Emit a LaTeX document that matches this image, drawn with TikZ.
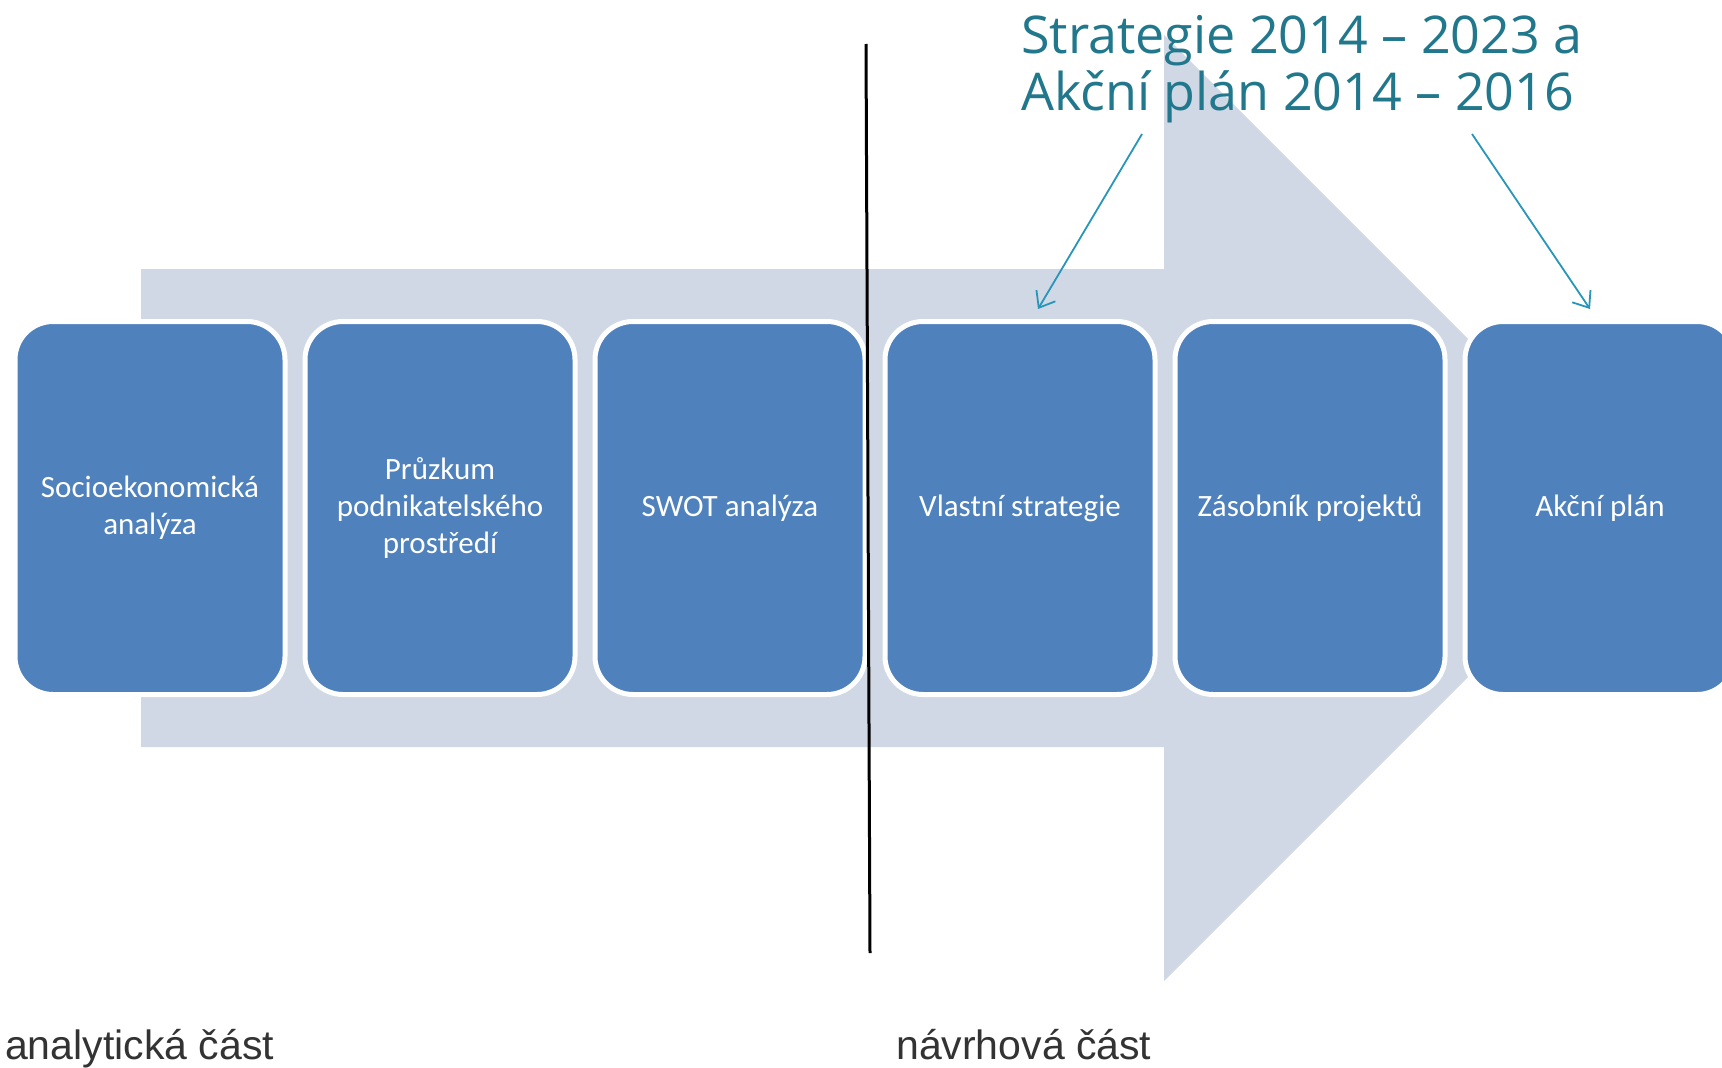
\documentclass[tikz,border=0pt]{standalone}
\usepackage{fontspec}
\setmainfont{Carlito}
\newfontfamily\titlefont{Open Sans}
\newfontfamily\labelfont{Liberation Sans}
\usetikzlibrary{arrows.meta}
\definecolor{boxblue}{HTML}{4F81BD}
\definecolor{arrowgrey}{HTML}{D0D8E5}
\definecolor{tealtext}{HTML}{21788C}
\definecolor{tealline}{HTML}{2896B9}
\definecolor{labelgrey}{HTML}{333333}
\tikzset{
  stagebox/.style={draw=white, line width=5pt, fill=boxblue, rounded corners=38pt,
    minimum width=270pt, minimum height=373pt, inner sep=0pt, text=white,
    align=center, font=\fontsize{31}{37}\selectfont},
  titleline/.style={anchor=base west, inner sep=0pt, text=tealtext,
    font=\titlefont\fontsize{52}{57}\selectfont},
  partlabel/.style={anchor=base west, inner sep=0pt, text=labelgrey,
    font=\labelfont\fontsize{41}{46}\selectfont},
  pointer/.style={draw=tealline, line width=1.8pt,
    -{Straight Barb[length=14pt,width=22pt,line width=1.8pt]}},
  divider/.style={draw=black, line width=3pt}
}
\begin{document}
\begin{tikzpicture}[x=1pt,y=-1pt]
\useasboundingbox (0,0) rectangle (1722,1068);
\fill[white] (0,0) rectangle (1722,1068);
% big background arrow
\fill[arrowgrey] (141,269) -- (1164,269) -- (1164,35) -- (1637,508)
  -- (1164,981) -- (1164,747) -- (141,747) -- cycle;
% stage boxes
\node[stagebox] (b1) at (150,508) {Socioekonomická\\analýza};
\node[stagebox] (b2) at (440,508) {Průzkum\\podnikatelského\\prostředí};
\node[stagebox] (b3) at (730,508) {SWOT analýza};
\node[stagebox] (b4) at (1020,508) {Vlastní strategie};
\node[stagebox] (b5) at (1310,508) {Zásobník projektů};
\node[stagebox] (b6) at (1600,508) {Akční plán};
% divider
\coordinate (dtop) at (866,44);
\coordinate (dbot) at (870,953);
\draw[divider] (dtop) -- (dbot);
% title
\node[titleline] (t1) at (1021,53) {Strategie 2014 – 2023 a};
\node[titleline] (t2) at (1021,110) {Akční plán 2014 – 2016};
\coordinate (s1) at (1142,134);
\coordinate (e1) at (1038,309);
\coordinate (s2) at (1472,134);
\coordinate (e2) at (1590,309);
\draw[pointer] (s1) -- (e1);
\draw[pointer] (s2) -- (e2);
% part labels
\node[partlabel] (l1) at (5,1059) {analytická část};
\node[partlabel] (l2) at (896,1059) {návrhová část};
\end{tikzpicture}
\end{document}
